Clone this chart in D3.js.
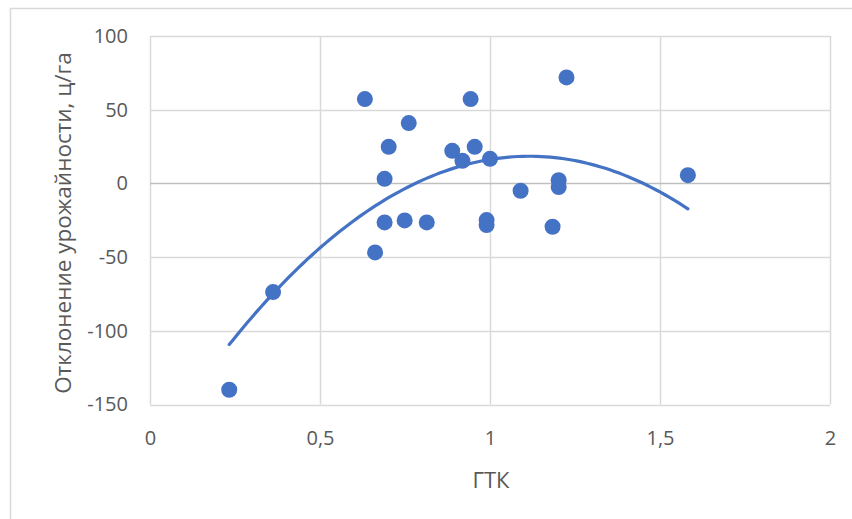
<!DOCTYPE html>
<html>
<head>
<meta charset="utf-8">
<script src="https://cdn.jsdelivr.net/npm/d3@7"></script>
<style>
  html, body { margin: 0; padding: 0; background: #fff; }
  svg text { font-family: "Open Sans", "Noto Sans", sans-serif; fill: #595959; }
</style>
</head>
<body>
<svg id="chart" width="852" height="519"></svg>
<script>
// Data
const gtk = [0.233, 0.362, 0.632, 0.662, 0.690, 0.690, 0.702, 0.749, 0.761, 0.814, 0.889, 0.919,
             0.943, 0.955, 0.990, 0.990, 1.000, 1.090, 1.184, 1.202, 1.202, 1.225, 1.582];
const deviation = [-140.0, -73.7, 57.2, -46.8, 3.1, -26.5, 24.8, -25.1, 40.9, -26.5, 22.1, 15.3,
                   57.2, 24.8, -24.9, -28.3, 16.7, -5.0, -29.4, 2.2, -2.5, 71.9, 5.6];
const xTicks = [0, 0.5, 1, 1.5, 2];
const yTicks = [-150, -100, -50, 0, 50, 100];
const xTitle = "ГТК";
const yTitle = "Отклонение урожайности, ц/га";

const svg = d3.select("#chart");
const W = 852, H = 519;
const plot = { left: 150, right: 830, top: 36, bottom: 404.5 };
const color = "#4472C4";

svg.append("rect").attr("x", 0).attr("y", 0).attr("width", W).attr("height", H).attr("fill", "#fff");
// outer chart border (only top and left edges visible)
svg.append("rect").attr("x", 10.5).attr("y", 8.5).attr("width", 900).attr("height", 700)
  .attr("fill", "none").attr("stroke", "#d9d9d9").attr("stroke-width", 1.5);

const x = d3.scaleLinear().domain([0, 2]).range([plot.left, plot.right]);
const y = d3.scaleLinear().domain([-150, 100]).range([plot.bottom, plot.top]);

// gridlines
const grid = svg.append("g");
grid.selectAll("line.v").data(xTicks).join("line")
  .attr("x1", d => Math.round(x(d)) + 0.5).attr("x2", d => Math.round(x(d)) + 0.5)
  .attr("y1", plot.top).attr("y2", plot.bottom)
  .attr("stroke", "#d9d9d9").attr("stroke-width", 1.5);
grid.selectAll("line.h").data(yTicks.filter(d => d !== 0)).join("line")
  .attr("x1", plot.left).attr("x2", plot.right)
  .attr("y1", d => Math.round(y(d)) + 0.5).attr("y2", d => Math.round(y(d)) + 0.5)
  .attr("stroke", "#d9d9d9").attr("stroke-width", 1.5);
// zero axis line
svg.append("line")
  .attr("x1", plot.left).attr("x2", plot.right)
  .attr("y1", Math.round(y(0)) + 0.5).attr("y2", Math.round(y(0)) + 0.5)
  .attr("stroke", "#bfbfbf").attr("stroke-width", 1.5);

// axes labels via d3 axes
const fmt = d => String(d).replace(".", ",");
const xAxis = svg.append("g").attr("transform", `translate(0,${plot.bottom})`)
  .call(d3.axisBottom(x).tickValues(xTicks).tickFormat(fmt).tickSize(0).tickPadding(26));
xAxis.select(".domain").remove();
xAxis.selectAll("text").attr("font-size", 20).style("fill", "#595959");

const yAxis = svg.append("g").attr("transform", `translate(${plot.left},0)`)
  .call(d3.axisLeft(y).tickValues(yTicks).tickFormat(d => String(d)).tickSize(0).tickPadding(22));
yAxis.select(".domain").remove();
yAxis.selectAll("text").attr("font-size", 20).style("fill", "#595959");

// titles
svg.append("text").attr("x", 491).attr("y", 488).attr("text-anchor", "middle")
  .attr("font-size", 22).text(xTitle);
svg.append("text").attr("transform", "translate(71,223) rotate(-90)").attr("text-anchor", "middle")
  .attr("font-size", 22.5).text(yTitle);

// quadratic least-squares trendline from the data
function polyfit2(xs, ys) {
  let n = xs.length, s = [0,0,0,0,0], t = [0,0,0];
  for (let i = 0; i < n; i++) {
    const xi = xs[i], yi = ys[i];
    let p = 1;
    for (let k = 0; k <= 4; k++) { s[k] += p; if (k <= 2) t[k] += p * yi; p *= xi; }
  }
  const M = [[s[0], s[1], s[2], t[0]], [s[1], s[2], s[3], t[1]], [s[2], s[3], s[4], t[2]]];
  for (let i = 0; i < 3; i++) {
    let piv = i;
    for (let r = i + 1; r < 3; r++) if (Math.abs(M[r][i]) > Math.abs(M[piv][i])) piv = r;
    [M[i], M[piv]] = [M[piv], M[i]];
    for (let r = 0; r < 3; r++) if (r !== i) {
      const f = M[r][i] / M[i][i];
      for (let c = i; c < 4; c++) M[r][c] -= f * M[i][c];
    }
  }
  return [M[0][3] / M[0][0], M[1][3] / M[1][1], M[2][3] / M[2][2]];
}
const [c0, c1, c2] = polyfit2(gtk, deviation);
const xmin = d3.min(gtk), xmax = d3.max(gtk);
const trendX = d3.range(0, 101).map(i => xmin + (xmax - xmin) * i / 100);
svg.append("path")
  .datum(trendX)
  .attr("fill", "none").attr("stroke", color).attr("stroke-width", 3.2).attr("stroke-linecap", "round")
  .attr("d", d3.line().x(d => x(d)).y(d => y(c0 + c1 * d + c2 * d * d)));

// points
svg.append("g").selectAll("circle").data(gtk.map((g, i) => [g, deviation[i]])).join("circle")
  .attr("cx", d => x(d[0])).attr("cy", d => y(d[1])).attr("r", 8)
  .attr("fill", color);
</script>
</body>
</html>
